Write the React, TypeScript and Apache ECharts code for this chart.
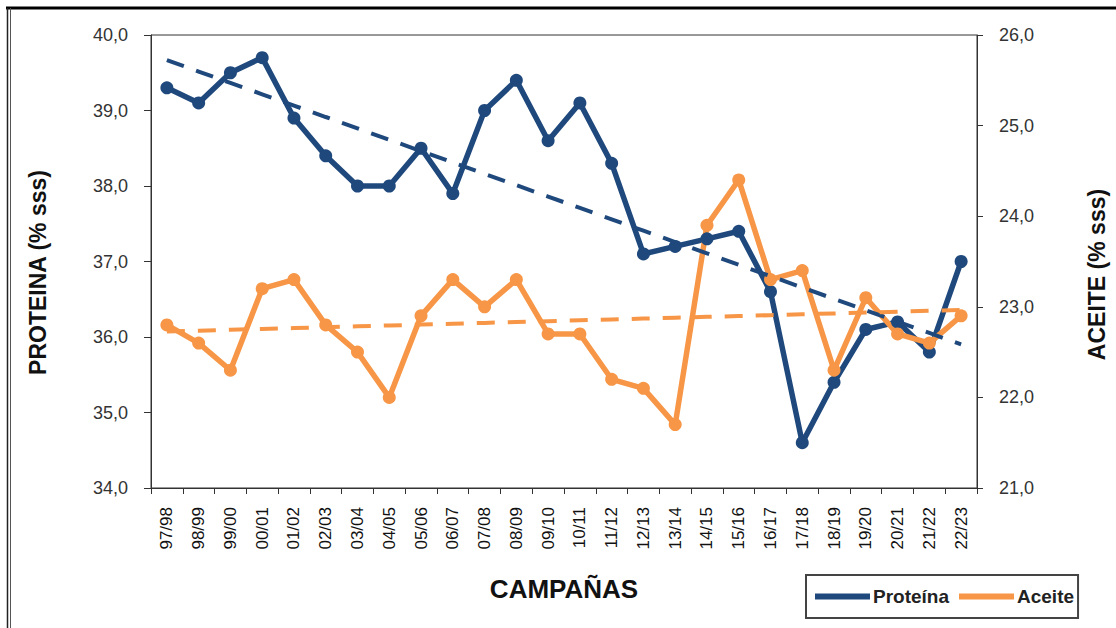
import React, { useEffect, useRef } from "react";
import * as echarts from "echarts";

const categories = [
  "97/98", "98/99", "99/00", "00/01", "01/02", "02/03", "03/04", "04/05", "05/06",
  "06/07", "07/08", "08/09", "09/10", "10/11", "11/12", "12/13", "13/14", "14/15",
  "15/16", "16/17", "17/18", "18/19", "19/20", "20/21", "21/22", "22/23",
];

const proteina = [
  39.3, 39.1, 39.5, 39.7, 38.9, 38.4, 38.0, 38.0, 38.5, 37.9, 39.0, 39.4, 38.6,
  39.1, 38.3, 37.1, 37.2, 37.3, 37.4, 36.6, 34.6, 35.4, 36.1, 36.2, 35.8, 37.0,
];

const aceite = [
  22.8, 22.6, 22.3, 23.2, 23.3, 22.8, 22.5, 22.0, 22.9, 23.3, 23.0, 23.3, 22.7,
  22.7, 22.2, 22.1, 21.7, 23.9, 24.4, 23.3, 23.4, 22.3, 23.1, 22.7, 22.6, 22.9,
];

const leftTicks = { min: 34, max: 40, interval: 1 };
const rightTicks = { min: 21, max: 26, interval: 1 };

const BLUE = "#1F497D";
const ORANGE = "#F79646";
const FONT = "'Liberation Sans', Arial, sans-serif";

// Least-squares linear trend line (like the spreadsheet's trendline)
function linearTrend(values: number[]): number[] {
  const n = values.length;
  const mx = (n - 1) / 2;
  const my = values.reduce((s, v) => s + v, 0) / n;
  let sxy = 0;
  let sxx = 0;
  values.forEach((v, i) => {
    sxy += (i - mx) * (v - my);
    sxx += (i - mx) * (i - mx);
  });
  const b = sxy / sxx;
  const a = my - b * mx;
  return values.map((_, i) => +(a + b * i).toFixed(4));
}

const fmt = (v: number) => v.toFixed(1).replace(".", ",");

export default function App() {
  const ref = useRef<HTMLDivElement>(null);

  useEffect(() => {
    if (!ref.current) return;
    const chart = echarts.init(ref.current, undefined, { renderer: "svg" });

    const lineSeries = (name: string, data: number[], color: string, yAxisIndex: number) => ({
      name,
      type: "line",
      yAxisIndex,
      data,
      symbol: "circle",
      symbolSize: 13,
      lineStyle: { color, width: 5.5 },
      itemStyle: { color },
      z: 3,
    });

    const trendSeries = (name: string, data: number[], color: string, yAxisIndex: number) => ({
      name,
      type: "line",
      yAxisIndex,
      data,
      symbol: "none",
      lineStyle: { color, width: 4, type: [18, 13] },
      z: 4,
      silent: true,
    });

    chart.setOption({
      animation: false,
      backgroundColor: "#ffffff",
      textStyle: { fontFamily: FONT },
      grid: {
        left: 151,
        right: 135,
        top: 35,
        bottom: 140,
        show: true,
        borderColor: "#333",
        borderWidth: 1,
        backgroundColor: "transparent",
      },
      legend: {
        data: ["Proteína", "Aceite"],
        left: 806,
        top: 575,
        orient: "horizontal",
        icon: "rect",
        itemWidth: 55,
        itemHeight: 6,
        itemGap: 10,
        padding: [12, 4, 12, 9],
        borderColor: "#444",
        borderWidth: 2,
        backgroundColor: "#fff",
        textStyle: { fontFamily: FONT, fontSize: 19, fontWeight: "bold", color: "#222", padding: [0, 0, 0, -2] },
      },
      xAxis: {
        type: "category",
        data: categories,
        boundaryGap: true,
        name: "CAMPAÑAS",
        nameLocation: "middle",
        nameGap: 88,
        nameTextStyle: { fontFamily: FONT, fontSize: 26, fontWeight: "bold", color: "#111" },
        axisLine: { show: true, lineStyle: { color: "#333", width: 1 } },
        axisTick: { show: true, length: 6, alignWithLabel: false, interval: 0, lineStyle: { color: "#333" } },
        axisLabel: {
          interval: 0,
          rotate: 90,
          margin: 19,
          fontFamily: FONT,
          fontSize: 17,
          color: "#111",
        },
        splitLine: { show: false },
      },
      yAxis: [
        {
          type: "value",
          position: "left",
          min: leftTicks.min,
          max: leftTicks.max,
          interval: leftTicks.interval,
          name: "PROTEINA (% sss)",
          nameLocation: "middle",
          nameRotate: 90,
          nameGap: 102,
          nameTextStyle: { fontFamily: FONT, fontSize: 23, fontWeight: "bold", color: "#111", padding: [0, 22, 0, 0] },
          axisLine: { show: true, lineStyle: { color: "#333", width: 1 } },
          axisTick: { show: true, length: 7, lineStyle: { color: "#333" } },
          axisLabel: { formatter: fmt, margin: 23, fontFamily: FONT, fontSize: 18, color: "#333" },
          splitLine: { show: false },
        },
        {
          type: "value",
          position: "right",
          min: rightTicks.min,
          max: rightTicks.max,
          interval: rightTicks.interval,
          name: "ACEITE (% sss)",
          nameLocation: "middle",
          nameRotate: 90,
          nameGap: 108,
          nameTextStyle: { fontFamily: FONT, fontSize: 23, fontWeight: "bold", color: "#111", padding: [0, 26, 0, 0] },
          axisLine: { show: true, lineStyle: { color: "#333", width: 1 } },
          axisTick: { show: true, length: 6, lineStyle: { color: "#333" } },
          axisLabel: { formatter: fmt, margin: 22, fontFamily: FONT, fontSize: 18, color: "#333" },
          splitLine: { show: false },
        },
      ],
      series: [
        lineSeries("Proteína", proteina, BLUE, 0),
        lineSeries("Aceite", aceite, ORANGE, 1),
        trendSeries("Tendencia Proteína", linearTrend(proteina), BLUE, 0),
        trendSeries("Tendencia Aceite", linearTrend(aceite), ORANGE, 1),
      ],
      graphic: [
        { type: "line", shape: { x1: 6, y1: 8, x2: 1116, y2: 8 }, style: { stroke: "#000", lineWidth: 3 }, silent: true },
        { type: "line", shape: { x1: 7.5, y1: 8, x2: 7.5, y2: 628 }, style: { stroke: "#222", lineWidth: 1.5 }, silent: true },
        { type: "line", shape: { x1: 10.5, y1: 8, x2: 10.5, y2: 628 }, style: { stroke: "#555", lineWidth: 1 }, silent: true },
      ],
    });

    return () => chart.dispose();
  }, []);

  return (
    <div
      ref={ref}
      style={{ position: "fixed", left: 0, top: 0, width: 1116, height: 628, background: "#fff" }}
    />
  );
}
